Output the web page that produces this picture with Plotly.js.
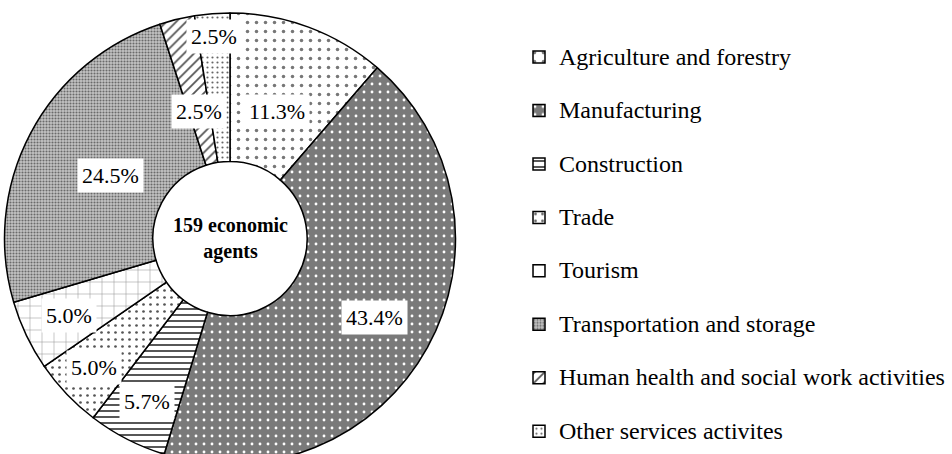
<!DOCTYPE html>
<html>
<head>
<meta charset="utf-8">
<script src="https://cdn.plot.ly/plotly-3.0.1.min.js"></script>
<style>
html, body { margin: 0; padding: 0; overflow: hidden; background: #fff; }
#plotdiv { width: 952px; height: 500px; }
</style>
</head>
<body>
<div id="plotdiv"></div>
<script>
// number of economic agents per sector (159 in total)
var sectors = ['Agriculture and forestry', 'Manufacturing', 'Construction', 'Trade',
	'Tourism', 'Transportation and storage', 'Human health and social work activities',
	'Other services activites'];
var agents = [18, 69, 9, 8, 8, 39, 4, 4];
var centerText = '159 economic<br>agents';

// fills, one per sector
var bgColors = ['#ffffff', '#7a7a7a', '#ffffff', '#ffffff', '#ffffff', '#c4c4c4', '#ffffff', '#ffffff'];
var fgColors = ['#777777', '#ffffff', '#444444', '#555555', '#8a8a8a', '#6a6a6a', '#555555', '#666666'];
var shapes = ['.', '.', '-', '.', '+', '.', '/', '.'];
var sizes = [9, 8, 6, 7, 12, 3, 7, 5];
var solidity = [0.12, 0.1, 0.3, 0.12, 0.08, 0.4, 0.25, 0.15];

// where the % boxes sit, as a share of the outer radius
var labelRadius = [0.60, 0.73, 0.81, 0.83, 0.79, 0.60, 0.58, 0.90];

// the figure is a bit taller than the window; the bottom of the ring is cut off like in the source
var W = 952, H = 500;
var pieX = [4.5, 455.5]; // px
var pieY = [13, 464];    // px from the top
var serif = 'Liberation Serif';

var total = agents.reduce(function(a, b){ return a + b; }, 0);

var trace = {
	type: 'pie',
	labels: sectors.map(function(s){ return "<span style='font-size:24px'>" + s + "</span><br>&nbsp;"; }),
	values: agents,
	sort: false,
	direction: 'clockwise',
	rotation: 0,
	hole: 0.342,
	textinfo: 'none',
	hoverinfo: 'label+percent',
	domain: {x: [pieX[0] / W, pieX[1] / W], y: [1 - pieY[1] / H, 1 - pieY[0] / H]},
	marker: {
		colors: bgColors,
		line: {color: '#000000', width: 1.5},
		pattern: {
			shape: shapes,
			fgcolor: fgColors,
			bgcolor: bgColors,
			size: sizes,
			solidity: solidity,
			fillmode: 'replace'
		}
	}
};

function labelAnnotations(){
	var cx = (pieX[0] + pieX[1]) / 2;
	var cy = (pieY[0] + pieY[1]) / 2;
	var r = (pieX[1] - pieX[0]) / 2;
	var out = [];
	var cum = 0;
	for(var i = 0; i < agents.length; i++){
		var mid = (cum + agents[i] / 2) / total * 2 * Math.PI;
		cum += agents[i];
		var px = cx + labelRadius[i] * r * Math.sin(mid);
		var py = cy - labelRadius[i] * r * Math.cos(mid);
		out.push({
			xref: 'paper', yref: 'paper',
			x: px / W, y: 1 - py / H,
			xanchor: 'center', yanchor: 'middle',
			text: (agents[i] / total * 100).toFixed(1) + '%',
			showarrow: false,
			bgcolor: '#ffffff',
			borderpad: 4,
			font: {family: serif, size: 22, color: '#000000'}
		});
	}
	out.push({
		xref: 'paper', yref: 'paper',
		x: cx / W, y: 1 - cy / H,
		xanchor: 'center', yanchor: 'middle',
		text: '<b>' + centerText + '</b>',
		showarrow: false,
		font: {family: serif, size: 20, color: '#000000'}
	});
	return out;
}

var layout = {
	width: W,
	height: H,
	margin: {l: 0, r: 0, t: 0, b: 0},
	paper_bgcolor: '#ffffff',
	font: {family: serif},
	showlegend: true,
	legend: {
		x: 519 / W, xanchor: 'left',
		y: 1 - 38 / H, yanchor: 'top',
		valign: 'top',
		font: {family: serif, size: 19.4, color: '#000000'},
		bgcolor: 'rgba(0,0,0,0)'
	},
	annotations: labelAnnotations()
};

Plotly.newPlot('plotdiv', [trace], layout, {displayModeBar: false, staticPlot: true});
</script>
</body>
</html>
